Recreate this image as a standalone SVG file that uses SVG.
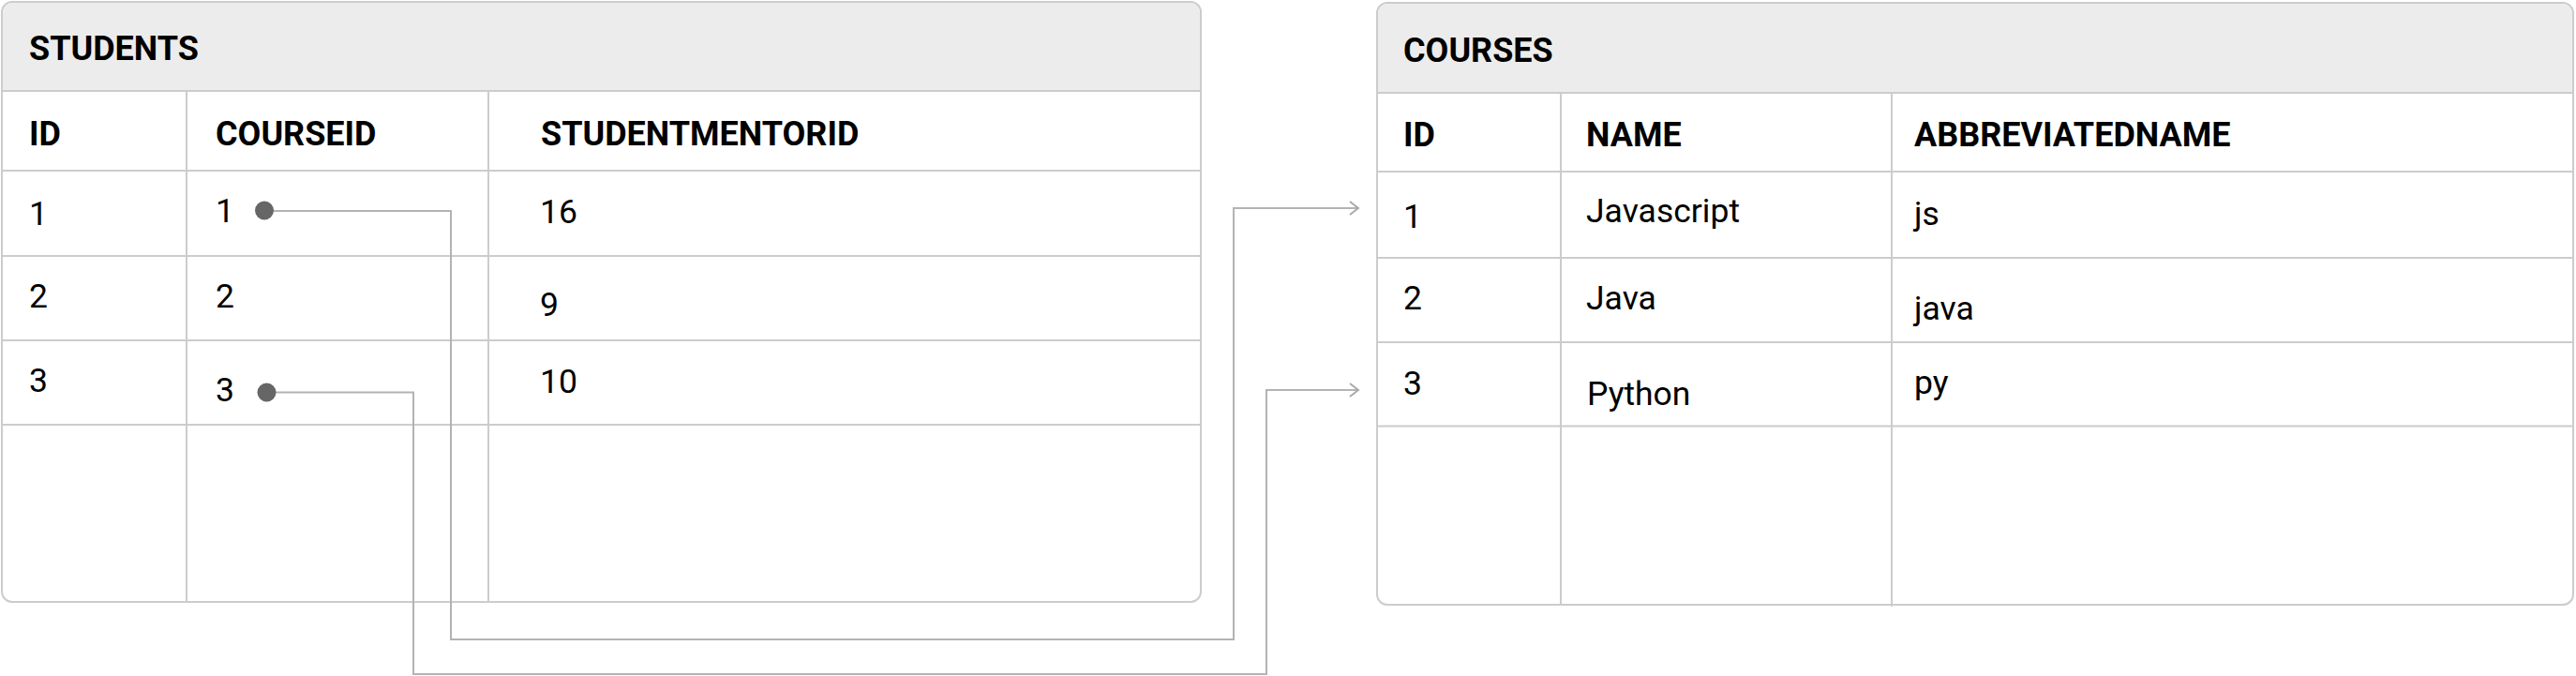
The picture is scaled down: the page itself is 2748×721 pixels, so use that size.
<svg xmlns="http://www.w3.org/2000/svg" width="2748" height="721" viewBox="0 0 2748 721">
<style>
.frame{fill:#ffffff;stroke:#cccccc;stroke-width:2}
.hdr{fill:#ececec}
.grid{stroke:#cccccc;stroke-width:2;fill:none}
.t{font-family:Roboto,"Liberation Sans",sans-serif;font-size:35.5px;fill:#000}
.b{font-weight:bold;font-size:36px}
.conn{fill:none;stroke:#b3b3b3;stroke-width:2}
.dot{fill:#666666}
</style>
<defs>
<marker id="arr" viewBox="0 0 12 16" refX="10" refY="8" markerWidth="12" markerHeight="16" markerUnits="userSpaceOnUse" orient="auto">
<path d="M1,1 L10,8 L1,15" fill="none" stroke="#aaaaaa" stroke-width="2"/>
</marker>
</defs>
<g id="students">
<rect class="frame" x="2" y="2" width="1279" height="640" rx="11"/>
<path class="hdr" d="M13,3 H1270 A10,10 0 0 1 1280,13 V96 H3 V13 A10,10 0 0 1 13,3 Z"/>
<path class="grid" d="M2,97 H1281 M2,182 H1281 M2,273 H1281 M2,363 H1281 M2,453 H1281 M199,97 V642 M521,97 V642"/>
<text class="t b" x="31" y="64">STUDENTS</text>
<text class="t b" x="31" y="155">ID</text>
<text class="t b" x="230" y="155">COURSEID</text>
<text class="t b" x="577" y="155">STUDENTMENTORID</text>
<text class="t" x="31" y="240">1</text>
<text class="t" x="230" y="237">1</text>
<text class="t" x="576" y="238">16</text>
<text class="t" x="31" y="328">2</text>
<text class="t" x="230" y="328">2</text>
<text class="t" x="576" y="337">9</text>
<text class="t" x="31" y="418">3</text>
<text class="t" x="230" y="428">3</text>
<text class="t" x="576" y="419">10</text>
</g>
<g id="courses">
<rect class="frame" x="1469" y="3" width="1276" height="642" rx="11"/>
<path class="hdr" d="M1480,4 H2734 A10,10 0 0 1 2744,14 V98 H1470 V14 A10,10 0 0 1 1480,4 Z"/>
<path class="grid" d="M1469,99 H2745 M1469,183 H2745 M1469,275 H2745 M1469,365 H2745 M1469,454.5 H2745 M1665,99 V645 M2018,99 V647"/>
<text class="t b" x="1497" y="66">COURSES</text>
<text class="t b" x="1497" y="156">ID</text>
<text class="t b" x="1692" y="156">NAME</text>
<text class="t b" x="2042" y="156">ABBREVIATEDNAME</text>
<text class="t" x="1497" y="243">1</text>
<text class="t" x="1692" y="237">Javascript</text>
<text class="t" x="2042" y="240">js</text>
<text class="t" x="1497" y="330">2</text>
<text class="t" x="1692" y="330">Java</text>
<text class="t" x="2042" y="341">java</text>
<text class="t" x="1497" y="421">3</text>
<text class="t" x="1693" y="432">Python</text>
<text class="t" x="2042" y="420">py</text>
</g>
<g id="connectors">
<path class="conn" d="M282,225 H481 V682 H1316 V222 H1449" marker-end="url(#arr)"/>
<path class="conn" d="M285,418.5 H441 V719 H1351 V416 H1449" marker-end="url(#arr)"/>
<circle class="dot" cx="282" cy="224.5" r="10"/>
<circle class="dot" cx="284.5" cy="418.5" r="10"/>
</g>
</svg>
